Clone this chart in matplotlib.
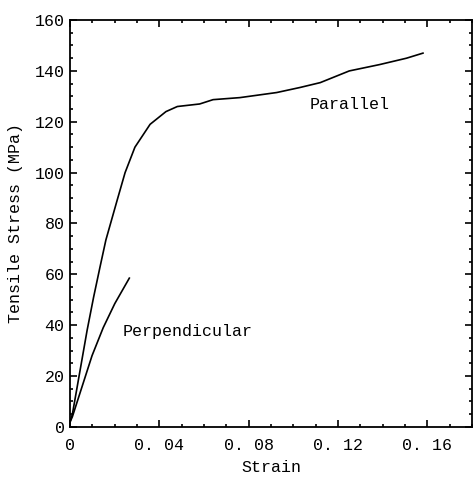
import numpy as np
import matplotlib
matplotlib.use("Agg")
import matplotlib.pyplot as plt
from matplotlib.ticker import MultipleLocator, FixedLocator

# stress-strain curves
par_strain = [0.0, 0.001, 0.004, 0.0076, 0.0105, 0.0134, 0.0160, 0.021, 0.0246,
              0.029, 0.0358, 0.0429, 0.048, 0.058, 0.064, 0.076, 0.0925,
              0.103, 0.112, 0.125, 0.1386, 0.1506, 0.158]
par_stress = [2, 5, 20, 38, 51, 63, 73.5, 89, 100,
              110, 119, 124, 126, 127, 128.7, 129.5, 131.5,
              133.5, 135.4, 140, 142.5, 145, 147]

perp_strain = [0.0, 0.001, 0.0098, 0.0148, 0.020, 0.0265]
perp_stress = [2, 4, 28, 39, 48.5, 58.5]

xticks = [0, 0.04, 0.08, 0.12, 0.16]
xticklabels = ["0", "0. 04", "0. 08", "0. 12", "0. 16"]
yticks = [0, 20, 40, 60, 80, 100, 120, 140, 160]

plt.rcParams['font.family'] = ['Liberation Mono', 'DejaVu Sans Mono']

fig = plt.figure(figsize=(4.74, 4.78), dpi=100)
ax = fig.add_axes([0.148, 0.107, 0.848, 0.851])

ax.plot(par_strain, par_stress, color='black', lw=1.2)
ax.plot(perp_strain, perp_stress, color='black', lw=1.2)

fs = 12
ax.text(0.125, 126.8, "Parallel", fontsize=fs, ha='center', va='center')
ax.text(0.0237, 37.4, "Perpendicular", fontsize=fs, ha='left', va='center')

ax.set_xlim(0, 0.18)
ax.set_ylim(0, 160)
ax.xaxis.set_major_locator(FixedLocator(xticks))
ax.set_xticklabels(xticklabels)
ax.xaxis.set_minor_locator(MultipleLocator(0.01))
ax.yaxis.set_major_locator(FixedLocator(yticks))
ax.yaxis.set_minor_locator(MultipleLocator(5))

ax.tick_params(which='both', direction='in', top=True, right=True, labelsize=fs, width=1.2)
ax.tick_params(which='major', length=5)
ax.tick_params(axis='x', which='major', pad=8)
ax.tick_params(axis='y', which='major', pad=4)
ax.tick_params(which='minor', length=2.5)
for s in ax.spines.values():
    s.set_linewidth(1.3)

ax.set_xlabel("Strain", fontsize=fs, labelpad=5)
ax.set_ylabel("Tensile Stress (MPa)", fontsize=fs, labelpad=8)

fig.savefig("out.png", dpi=100)
